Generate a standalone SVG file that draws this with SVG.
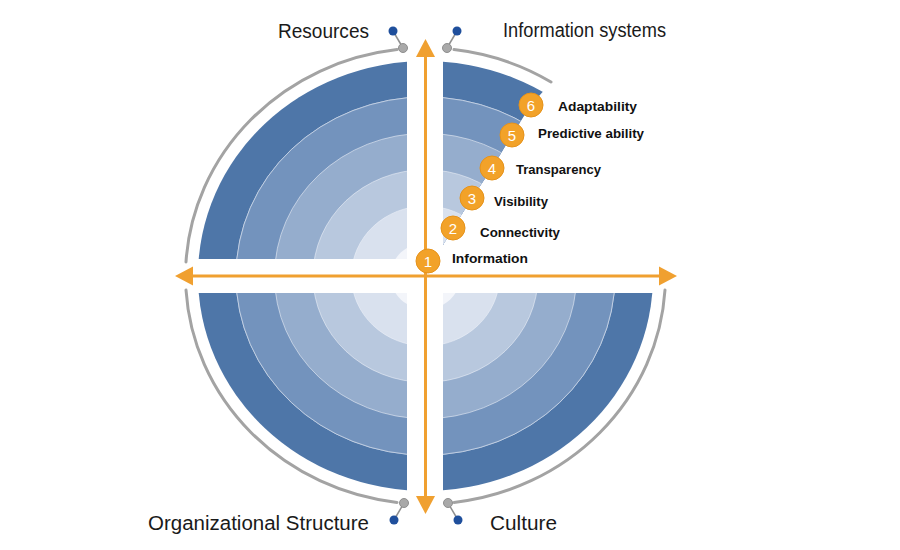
<svg xmlns="http://www.w3.org/2000/svg" xmlns:xlink="http://www.w3.org/1999/xlink" width="900" height="550" viewBox="0 0 900 550">
<style>
.lbl{font-family:"Liberation Sans",Arial,sans-serif;font-size:20px;fill:#1a1a1a}
.stage{font-family:"Liberation Sans",Arial,sans-serif;font-weight:bold;font-size:13.5px;fill:#111}
.num{font-family:"Liberation Sans",Arial,sans-serif;font-size:15px;fill:#fff;text-anchor:middle}
.badge{fill:#F2A229;stroke:#E6921A;stroke-width:1}
.gray{fill:none;stroke:#a3a3a3;stroke-width:3;stroke-linecap:round}
.gdot{fill:#a9a9a9;stroke:#8e8e8e;stroke-width:1}
.bdot{fill:#1f4f9c}
.link{stroke:#8f8f8f;stroke-width:1.5}
.axis{stroke:#F0A030;stroke-width:3;fill:none}
.sep{fill:none;stroke:#eef2f8;stroke-opacity:0.6;stroke-width:1}
</style>
<defs>
  <g id="rings" transform="translate(425.5 276) scale(1 0.945)">
    <circle r="227.5" fill="#4e76a8"/>
    <circle r="189.5" fill="#7393bd" class="sep"/>
    <circle r="189.5" fill="#7393bd"/>
    <circle r="151" fill="#95adcd"/>
    <circle r="112.5" fill="#b8c8de"/>
    <circle r="74" fill="#d9e1ee"/>
    <circle r="35" fill="#f3f5fa"/>
    <circle r="189.5" class="sep"/>
    <circle r="151" class="sep"/>
    <circle r="112.5" class="sep"/>
    <circle r="74" class="sep"/>
  </g>
  <clipPath id="cTL"><rect x="150" y="30" width="257" height="229"/></clipPath>
  <clipPath id="cTR"><polygon points="443,30 600,30 548,86 531,105 512,135 492,168 472,198 453,228 443,245"/></clipPath>
  <clipPath id="cBL"><rect x="150" y="293" width="257" height="230"/></clipPath>
  <clipPath id="cBR"><rect x="443" y="293" width="257" height="230"/></clipPath>
  <marker id="ah" viewBox="0 -10 18 20" markerWidth="18" markerHeight="20" refX="0" refY="0" markerUnits="userSpaceOnUse" orient="auto-start-reverse">
    <path d="M0,-9.5 L18,0 L0,9.5 Z" fill="#F0A030"/>
  </marker>
</defs>

<rect width="900" height="550" fill="#ffffff"/>

<g id="resources">
  <use xlink:href="#rings" href="#rings" clip-path="url(#cTL)"/>
  <path class="gray" d="M397 49.6 A240 228 0 0 0 186 262"/>
  <line class="link" x1="393" y1="31" x2="403" y2="48"/>
  <circle class="gdot" cx="403" cy="48" r="4.5"/>
  <circle class="bdot" cx="393" cy="31" r="4.5"/>
  <text class="lbl" x="278" y="38" textLength="91" lengthAdjust="spacingAndGlyphs">Resources</text>
</g>

<g id="information-systems">
  <use xlink:href="#rings" href="#rings" clip-path="url(#cTR)"/>
  <path class="gray" d="M454 49.6 A240 228 0 0 1 551 82"/>
  <line class="link" x1="457" y1="31" x2="447" y2="48"/>
  <circle class="gdot" cx="447" cy="48" r="4.5"/>
  <circle class="bdot" cx="457" cy="31" r="4.5"/>
  <text class="lbl" x="503" y="37" textLength="163" lengthAdjust="spacingAndGlyphs">Information systems</text>
</g>

<g id="organizational-structure">
  <use xlink:href="#rings" href="#rings" clip-path="url(#cBL)"/>
  <path class="gray" d="M186 290 A240 228 0 0 0 397 502.4"/>
  <line class="link" x1="394" y1="520" x2="404" y2="503"/>
  <circle class="gdot" cx="404" cy="503" r="4.5"/>
  <circle class="bdot" cx="394" cy="520" r="4.5"/>
  <text class="lbl" x="148" y="530" textLength="221" lengthAdjust="spacingAndGlyphs">Organizational Structure</text>
</g>

<g id="culture">
  <use xlink:href="#rings" href="#rings" clip-path="url(#cBR)"/>
  <path class="gray" d="M665 290 A240 228 0 0 1 454 502.4"/>
  <line class="link" x1="458" y1="520" x2="448" y2="503"/>
  <circle class="gdot" cx="448" cy="503" r="4.5"/>
  <circle class="bdot" cx="458" cy="520" r="4.5"/>
  <text class="lbl" x="490" y="530" textLength="67" lengthAdjust="spacingAndGlyphs">Culture</text>
</g>

<g id="connectors">
  <line class="axis" x1="193" y1="276" x2="659" y2="276" marker-start="url(#ah)" marker-end="url(#ah)"/>
  <line class="axis" x1="425.5" y1="57" x2="425.5" y2="496" marker-start="url(#ah)" marker-end="url(#ah)"/>
</g>

<g id="stage-1">
  <circle class="badge" cx="428" cy="261" r="12"/>
  <text class="num" x="428" y="266.5">1</text>
  <text class="stage" x="452" y="263" textLength="76" lengthAdjust="spacingAndGlyphs">Information</text>
</g>
<g id="stage-2">
  <circle class="badge" cx="453" cy="228" r="12"/>
  <text class="num" x="453" y="233.5">2</text>
  <text class="stage" x="480" y="237" textLength="80" lengthAdjust="spacingAndGlyphs">Connectivity</text>
</g>
<g id="stage-3">
  <circle class="badge" cx="472" cy="198" r="12"/>
  <text class="num" x="472" y="203.5">3</text>
  <text class="stage" x="494" y="206" textLength="54" lengthAdjust="spacingAndGlyphs">Visibility</text>
</g>
<g id="stage-4">
  <circle class="badge" cx="492" cy="168" r="12"/>
  <text class="num" x="492" y="173.5">4</text>
  <text class="stage" x="516" y="174" textLength="85" lengthAdjust="spacingAndGlyphs">Transparency</text>
</g>
<g id="stage-5">
  <circle class="badge" cx="512" cy="135" r="12"/>
  <text class="num" x="512" y="140.5">5</text>
  <text class="stage" x="538" y="138" textLength="106" lengthAdjust="spacingAndGlyphs">Predictive ability</text>
</g>
<g id="stage-6">
  <circle class="badge" cx="531" cy="105" r="12"/>
  <text class="num" x="531" y="110.5">6</text>
  <text class="stage" x="558" y="111" textLength="79" lengthAdjust="spacingAndGlyphs">Adaptability</text>
</g>
</svg>
